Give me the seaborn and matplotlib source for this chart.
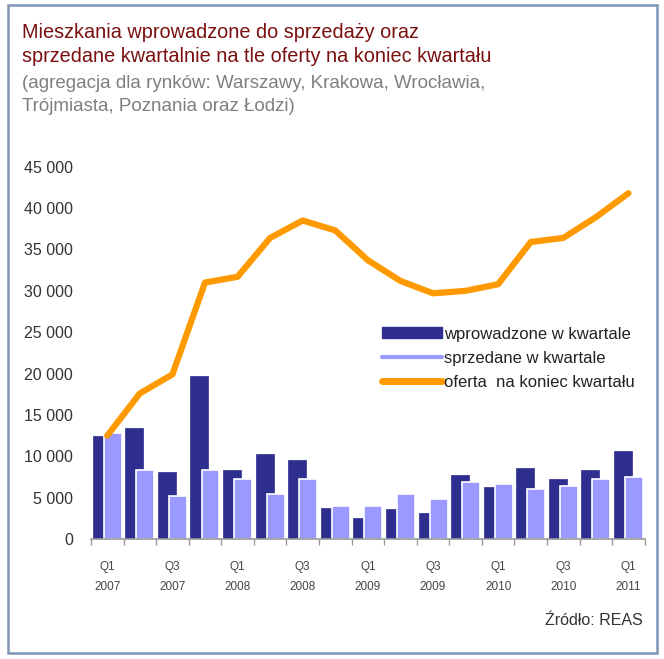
import numpy as np
import pandas as pd
import matplotlib
matplotlib.use("Agg")
import matplotlib.pyplot as plt
from matplotlib.patches import Patch, Rectangle
from matplotlib.lines import Line2D
from matplotlib.ticker import FuncFormatter, FixedLocator
import seaborn as sns

# dane kwartalne (REAS)
kwartaly = ["Q1", "Q2", "Q3", "Q4"] * 4 + ["Q1"]
lata = [2007] * 4 + [2008] * 4 + [2009] * 4 + [2010] * 4 + [2011]
wprowadzone = [12400, 13400, 8100, 19700, 8400, 10300, 9600, 3700, 2500,
               3600, 3100, 7800, 6300, 8600, 7300, 8400, 10700]
sprzedane = [12800, 8400, 5200, 8400, 7200, 5400, 7200, 4000, 4000,
             5400, 4800, 6900, 6600, 6000, 6400, 7200, 7500]
oferta = [12500, 17600, 19900, 31000, 31700, 36400, 38500, 37300, 33700,
          31200, 29700, 30000, 30800, 35900, 36400, 38900, 41800]

serie = ["wprowadzone w kwartale", "sprzedane w kwartale"]
LEGEND_OFERTA = "oferta  na koniec kwartału"

C_DARK = "#2e2e8f"
C_LIGHT = "#9999ff"
C_ORANGE = "#ff9900"

okresy = [f"{k} {r}" for k, r in zip(kwartaly, lata)]
df = pd.DataFrame({
    "okres": okresy * 2,
    "wartosc": wprowadzone + sprzedane,
    "seria": [serie[0]] * len(okresy) + [serie[1]] * len(okresy),
})

sns.set_style("white")
plt.rcParams["font.family"] = ["Liberation Sans", "DejaVu Sans"]

fig = plt.figure(figsize=(6.64, 6.59), dpi=100)
ax = fig.add_axes([0.137, 0.182, 0.834, 0.565])

sns.barplot(data=df, x="okres", y="wartosc", hue="seria", order=okresy,
            hue_order=serie, palette=[C_DARK, C_LIGHT], width=0.68,
            saturation=1, legend=False, ax=ax)

# Excel-style overlapping bars: widen each bar around its own centre
for i, p in enumerate(ax.patches):
    c = p.get_x() + p.get_width() / 2
    w = 0.55
    p.set_x(c - w / 2)
    p.set_width(w)
    if i >= len(okresy):
        p.set_edgecolor("white")
        p.set_linewidth(1.2)
    else:
        p.set_edgecolor(C_DARK)
        p.set_linewidth(0.5)

sns.lineplot(x=np.arange(len(okresy)), y=oferta, color=C_ORANGE,
             linewidth=4.5, solid_joinstyle="round", ax=ax)

ax.set_xlim(-0.5, len(okresy) - 0.5)
ax.set_ylim(0, 45000)
ax.set_xlabel("")
ax.set_ylabel("")

ax.yaxis.set_major_locator(FixedLocator(np.arange(0, 45001, 5000)))
ax.yaxis.set_major_formatter(FuncFormatter(lambda v, _: f"{int(v):,}".replace(",", " ")))
ax.tick_params(axis="y", length=0, pad=13, labelsize=11.5, labelcolor="#333333")

major = np.arange(0, len(okresy), 2)
ax.set_xticks(major)
ax.set_xticklabels([f"{kwartaly[i]}\n{lata[i]}" for i in major],
                   fontsize=8.5, color="#444444", linespacing=1.9)
ax.set_xticks(np.arange(-0.5, len(okresy)), minor=True)
ax.tick_params(axis="x", which="major", length=0, pad=16)
ax.tick_params(axis="x", which="minor", length=4, width=1, color="#999999",
               direction="out", bottom=True)

sns.despine(ax=ax, left=True, top=True, right=True)
ax.spines["bottom"].set_color("#999999")
ax.spines["bottom"].set_linewidth(1.2)

handles = [
    Patch(facecolor=C_DARK, edgecolor=C_DARK),
    Line2D([0], [0], color=C_LIGHT, linewidth=3),
    Line2D([0], [0], color=C_ORANGE, linewidth=5),
]
fig.legend(handles, [serie[0], serie[1], LEGEND_OFERTA],
           loc="upper left", bbox_to_anchor=(0.552, 0.527), frameon=False,
           fontsize=12, handlelength=3.6, handleheight=0.65, handletextpad=0.15,
           labelspacing=0.55, labelcolor="#222222")

fig.text(0.033, 0.950, "Mieszkania wprowadzone do sprzedaży oraz",
         fontsize=14.3, color="#7a1010", va="center")
fig.text(0.033, 0.914, "sprzedane kwartalnie na tle oferty na koniec kwartału",
         fontsize=14.3, color="#7a1010", va="center")
fig.text(0.033, 0.874, "(agregacja dla rynków: Warszawy, Krakowa, Wrocławia,",
         fontsize=13.5, color="#7f7f7f", va="center")
fig.text(0.033, 0.839, "Trójmiasta, Poznania oraz Łodzi)",
         fontsize=13.5, color="#7f7f7f", va="center")
fig.text(0.968, 0.058, "Źródło: REAS", fontsize=11.5, color="#333333",
         ha="right", va="center")

fig.patches.append(Rectangle((0.012, 0.009), 0.978, 0.983, transform=fig.transFigure,
                             fill=False, edgecolor="#7f95b5", linewidth=1.8))

fig.savefig("out.png", dpi=100, facecolor="white")
